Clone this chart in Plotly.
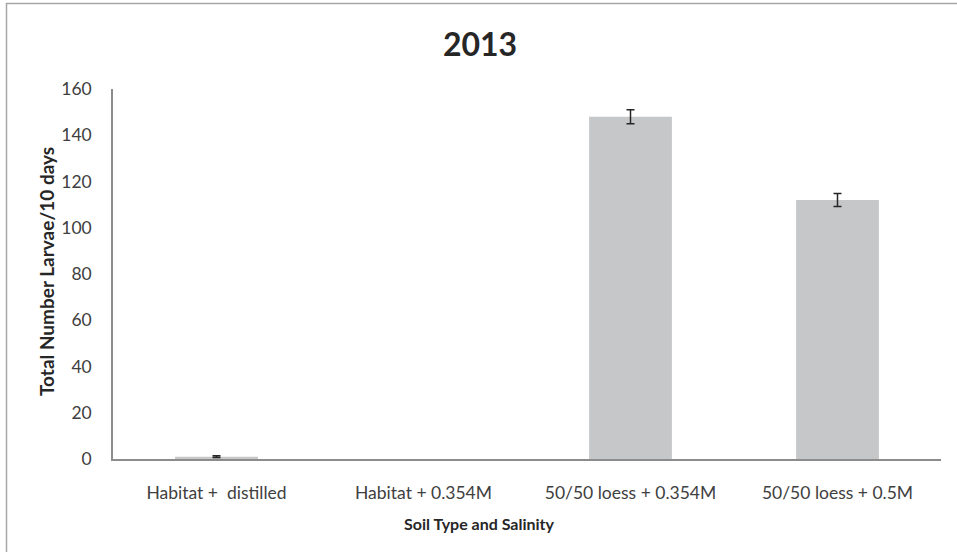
import plotly.graph_objects as go

categories = ["Habitat +  distilled", "Habitat + 0.354M", "50/50 loess + 0.354M", "50/50 loess + 0.5M"]
larvae = [1, 0, 148, 112]
errors = [0.4, None, 3, 2.8]
y_ticks = [0, 20, 40, 60, 80, 100, 120, 140, 160]

W, H = 957, 552
L, R, T, B = 113, 16, 89, 93
pw, ph = W - L - R, H - T - B

fig = go.Figure(go.Bar(
    x=categories, y=larvae,
    marker=dict(color="#C6C7C9", line=dict(width=0)),
    width=0.4,
))

# error bars only where an error value exists
eb_x = [c for c, e in zip(categories, errors) if e is not None]
eb_y = [v for v, e in zip(larvae, errors) if e is not None]
eb_e = [e for e in errors if e is not None]
fig.add_trace(go.Scatter(
    x=eb_x, y=eb_y, mode="markers", marker=dict(size=0.1, opacity=0),
    error_y=dict(type="data", array=eb_e, color="#262626", thickness=1.5, width=4, visible=True),
    hoverinfo="skip",
))

font_family = "Lato, 'Open Sans', sans-serif"

def px_x(p):
    return (p - L) / pw

def px_y(p):
    return (H - B - p) / ph

fig.update_layout(
    width=W, height=H,
    margin=dict(l=L, r=R, t=T, b=B),
    paper_bgcolor="white", plot_bgcolor="white",
    showlegend=False,
    font=dict(family=font_family, color="#404040"),
    title=dict(text="<b>2013</b>", x=480 / W, xanchor="center", y=1 - 45 / H, yanchor="middle",
               font=dict(size=32, color="#262626", family=font_family)),
    xaxis=dict(
        showline=True, linecolor="#8C8C8C", linewidth=1.5,
        showgrid=False, ticks="", ticklabelstandoff=17,
        tickfont=dict(size=17.5, color="#404040"),
    ),
    yaxis=dict(
        range=[0, 160], tickvals=y_ticks,
        showline=True, linecolor="#8C8C8C", linewidth=1.5,
        showgrid=False, ticks="", ticklabelstandoff=16, zeroline=False,
        tickfont=dict(size=17.5, color="#404040"),
    ),
)

fig.add_annotation(text="<b>Soil Type and Salinity</b>", xref="paper", yref="paper",
                   x=px_x(479), y=px_y(523), xanchor="center", yanchor="middle",
                   showarrow=False, font=dict(size=16, color="#262626"))
fig.add_annotation(text="<b>Total Number Larvae/10 days</b>", xref="paper", yref="paper",
                   x=px_x(46), y=px_y(272), xanchor="center", yanchor="middle", textangle=-90,
                   showarrow=False, font=dict(size=19, color="#262626"))

# outer chart border (Excel chart area frame)
fig.add_shape(type="rect", xref="paper", yref="paper",
              x0=px_x(6.5), x1=px_x(W + 10),
              y0=px_y(H + 10), y1=px_y(3.5),
              line=dict(color="#A6A6A6", width=1.5), layer="below")

fig.write_html("out.html")
